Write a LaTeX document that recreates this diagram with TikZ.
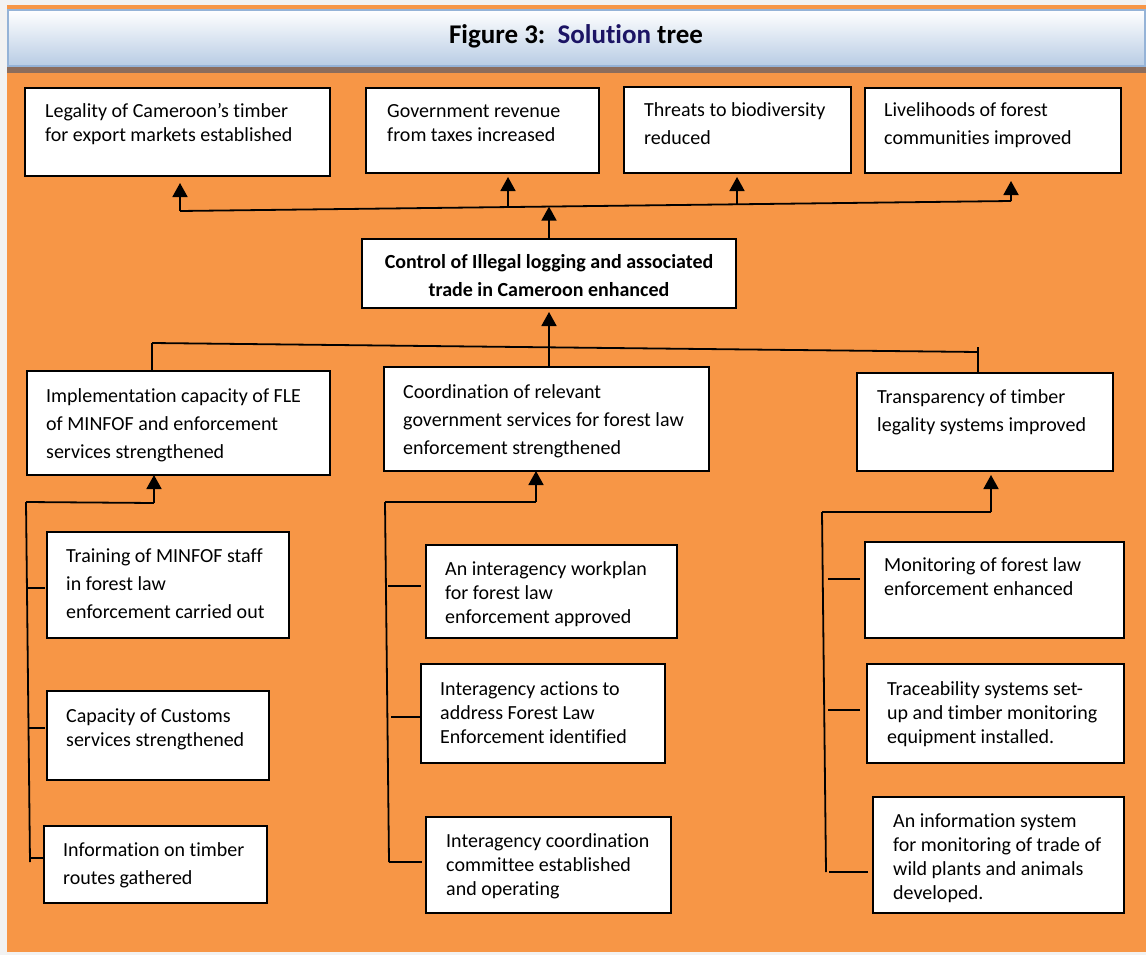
\documentclass[tikz,border=0pt]{standalone}
\usepackage{fontspec}
\setmainfont{Carlito}[Ligatures=NoCommon,Contextuals=NoAlternate]
\usetikzlibrary{arrows.meta,calc}
\definecolor{bgorange}{HTML}{F79646}
\definecolor{bggray}{HTML}{F2F2F2}
\definecolor{hdrblue}{HTML}{B8CCE4}
\definecolor{hdrborder}{HTML}{95B3D7}
\definecolor{hdrshadow}{HTML}{8C6D5C}
\definecolor{navy}{HTML}{1C1464}
\begin{document}
\begin{tikzpicture}[x=1pt,y=-1pt,
  box/.style={draw=black, line width=1.8pt, fill=white, inner sep=0pt, outer sep=0pt, anchor=north west},
  txtA/.style={inner sep=0pt, anchor=north west, align=left, font=\fontsize{20}{24}\selectfont},
  txtB/.style={inner sep=0pt, anchor=north west, align=left, font=\fontsize{20}{28}\selectfont},
  conn/.style={line width=1.8pt},
  arr/.style={conn, -{Triangle[width=15pt,length=14pt]}}]
% background
\useasboundingbox (0,0) rectangle (1146,955);
\fill[bggray] (0,0) rectangle (1146,955);
\fill[bgorange] (7,5) rectangle (1146,952);
% header
\fill[hdrshadow] (7,66) rectangle (1146,73);
\shade[top color=white, bottom color=hdrblue] (8,10) rectangle (1145,66);
\draw[hdrborder, line width=2pt] (8,10) rectangle (1145,66);
\node[font=\bfseries\fontsize{27}{32}\selectfont, anchor=base, inner sep=0pt] (title) at (576,44) {Figure 3:\ \ \textcolor{navy}{Solution} tree};
% top boxes
\node[box, minimum width=305pt, minimum height=88pt] (T1) at (25,88) {};
\node[box, minimum width=233pt, minimum height=85pt] (T2) at (366,88) {};
\node[box, minimum width=227pt, minimum height=86pt] (T3) at (624,87) {};
\node[box, minimum width=256pt, minimum height=85pt] (T4) at (865,88) {};
\node[txtA] (T1t) at (45,100.2) {\strut Legality of Cameroon’s timber\\for export markets established};
\node[txtA] (T2t) at (387,100.2) {\strut Government revenue\\from taxes increased};
\node[txtB] (T3t) at (644,96.4) {\strut Threats to biodiversity\\reduced};
\node[txtB] (T4t) at (884,96.4) {\strut Livelihoods of forest\\communities improved};
% center box
\node[box, minimum width=374pt, minimum height=69pt] (C) at (362,239) {};
\node[txtB, anchor=north, align=center, font=\bfseries\fontsize{20}{28}\selectfont] (Ct) at (549,248.4) {\strut Control of Illegal logging and associated\\trade in Cameroon enhanced};
% middle boxes
\node[box, minimum width=303pt, minimum height=104pt] (M1) at (27,371) {};
\node[box, minimum width=325pt, minimum height=104pt] (M2) at (384,367) {};
\node[box, minimum width=256pt, minimum height=98pt] (M3) at (857,373) {};
\node[txtB] (M1t) at (46,382.4) {\strut Implementation capacity of FLE\\of MINFOF and enforcement\\services strengthened};
\node[txtB] (M2t) at (403,378.4) {\strut Coordination of relevant\\government services for forest law\\enforcement strengthened};
\node[txtB] (M3t) at (877,383.4) {\strut Transparency of timber\\legality systems improved};
% lower left
\node[box, minimum width=242pt, minimum height=106pt] (L1) at (47,532) {};
\node[box, minimum width=222pt, minimum height=89pt] (L2) at (47,691) {};
\node[box, minimum width=223pt, minimum height=77pt] (L3) at (44,826) {};
\node[txtB] (L1t) at (66,542.4) {\strut Training of MINFOF staff\\in forest law\\enforcement carried out};
\node[txtA] (L2t) at (66,705.2) {\strut Capacity of Customs\\services strengthened};
\node[txtB] (L3t) at (63,836.4) {\strut Information on timber\\routes gathered};
% lower middle
\node[box, minimum width=251pt, minimum height=93pt] (LM1) at (426,545) {};
\node[box, minimum width=244pt, minimum height=99pt] (LM2) at (421,664) {};
\node[box, minimum width=245pt, minimum height=96pt] (LM3) at (426,817) {};
\node[txtA] (LM1t) at (445,558.2) {\strut An interagency workplan\\for forest law\\enforcement approved};
\node[txtA] (LM2t) at (440,678.2) {\strut Interagency actions to\\address Forest Law\\Enforcement identified};
\node[txtA] (LM3t) at (446,830.2) {\strut Interagency coordination\\committee established\\and operating};
% lower right
\node[box, minimum width=259pt, minimum height=96pt] (R1) at (865,542) {};
\node[box, minimum width=257pt, minimum height=99pt] (R2) at (867,664) {};
\node[box, minimum width=251pt, minimum height=116pt] (R3) at (873,797) {};
\node[txtA] (R1t) at (884,554.2) {\strut Monitoring of forest law\\enforcement enhanced};
\node[txtA] (R2t) at (887,678.2) {\strut Traceability systems set-\\up and timber monitoring\\equipment installed.};
\node[txtA] (R3t) at (893,810.2) {\strut An information system\\for monitoring of trade of\\wild plants and animals\\developed.};
% top bus
\coordinate (tb1) at (180,211);
\coordinate (tb2) at (1011,201);
\coordinate (tbB) at (508,206.5);
\coordinate (tbC) at (737,204);
\coordinate (tbM) at (549,206.6);
\draw[conn] (tb1) -- (tb2);
\draw[arr, shorten >=7pt] (tb1) -- (tb1 |- T1.south);
\draw[arr, shorten >=4pt] (tbB) -- (tbB |- T2.south);
\draw[arr, shorten >=4pt] (tbC) -- (tbC |- T3.south);
\draw[arr, shorten >=8pt] (tb2) -- (tb2 |- T4.south);
\draw[arr] (C.north) -- (tbM);
% middle bus
\coordinate (mb1) at (152,343);
\coordinate (mb2) at (978,352);
\coordinate (mbt) at (978,347);
\draw[conn] (mb1) -- (mb2);
\draw[conn] (mb1) -- (mb1 |- M1.north);
\draw[conn] (mbt) -- (mbt |- M3.north);
\draw[arr, shorten >=4pt] (C.south |- M2.north) -- (C.south);
% left group
\coordinate (lg1) at (26,502);
\coordinate (lg2) at (30,862);
\coordinate (la) at (154,503);
\draw[conn] (lg1) -- (lg2);
\draw[conn] (lg1) -- (la);
\draw[arr] (la) -- (la |- M1.south);
\coordinate (lt1) at (27,588);
\coordinate (lt2) at (28,728);
\coordinate (lt3) at (29,858);
\draw[conn] (lt1) -- ++(18,0);
\draw[conn] (lt2) -- ++(17,0);
\draw[conn] (lt3) -- (lt3 -| L3.west);
% middle group
\coordinate (mg1) at (385,502);
\coordinate (mg2) at (389,862);
\coordinate (ma) at (536,502);
\draw[conn] (mg1) -- (mg2);
\draw[conn] (mg1) -- (ma);
\draw[arr] (ma) -- (ma |- M2.south);
\coordinate (mt1) at (388,586);
\coordinate (mt2) at (391,717);
\draw[conn] (mt1) -- ++(33,0);
\draw[conn] (mt2) -- (mt2 -| LM2.west);
\draw[conn] (mg2) -- ++(33,0);
% right group
\coordinate (rg1) at (822,512);
\coordinate (rg2) at (826,872);
\coordinate (ra) at (991,512);
\draw[conn] (rg1) -- (rg2);
\draw[conn] (rg1) -- (ra);
\draw[arr, shorten >=4pt] (ra) -- (ra |- M3.south);
\coordinate (rt1) at (828,579);
\coordinate (rt2) at (828,710);
\coordinate (rt3) at (829,872);
\draw[conn] (rt1) -- ++(32,0);
\draw[conn] (rt2) -- ++(32,0);
\draw[conn] (rt3) -- ++(39,0);
\end{tikzpicture}
\end{document}
